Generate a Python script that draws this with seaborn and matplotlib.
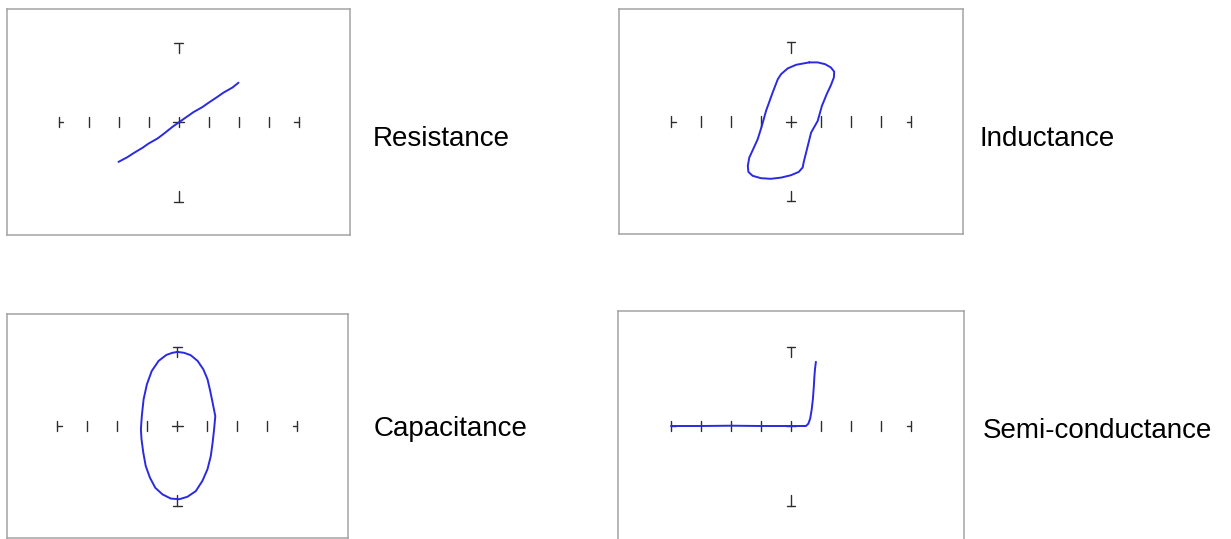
import numpy as np
import pandas as pd
import matplotlib
matplotlib.use("Agg")
import matplotlib.pyplot as plt
import seaborn as sns

# curve traces, in screen divisions (centre = 0,0)
res_x = [-2.0, -1.7, -1.5, -1.2, -1.0, -0.7, -0.5, -0.2, 0.0, 0.3, 0.5, 0.8, 1.0, 1.3, 1.5, 1.8, 2.0]
res_y = [-1.33, -1.17, -1.04, -0.86, -0.72, -0.55, -0.40, -0.16, -0.02, 0.19, 0.33, 0.50, 0.64, 0.84, 0.98, 1.15, 1.31]

ind_x = [0.61, 0.89, 1.14, 1.33, 1.44, 1.43, 1.33, 1.19, 1.03, 0.89, 0.67, 0.56, 0.42, 0.39, 0.26, 0.00,
         -0.33, -0.67, -1.00, -1.28, -1.42, -1.44, -1.39, -1.26, -1.11, -0.97, -0.83, -0.61, -0.44,
         -0.33, -0.11, 0.17, 0.44, 0.61]
ind_y = [1.97, 1.97, 1.91, 1.80, 1.66, 1.47, 1.21, 0.91, 0.52, 0.02, -0.37, -0.81, -1.37, -1.53, -1.68,
         -1.79, -1.87, -1.91, -1.89, -1.81, -1.68, -1.48, -1.20, -0.92, -0.59, -0.14, 0.36, 0.97, 1.41,
         1.58, 1.77, 1.89, 1.94, 1.97]

cap_x = [0.00, 0.22, 0.44, 0.67, 0.86, 1.00, 1.09, 1.17, 1.26, 1.22, 1.17, 1.11, 1.00, 0.83, 0.61, 0.33,
         0.06, -0.22, -0.50, -0.74, -0.92, -1.06, -1.14, -1.20, -1.22, -1.19, -1.13, -1.02, -0.86,
         -0.63, -0.37, -0.17, 0.00]
cap_y = [2.47, 2.44, 2.36, 2.17, 1.89, 1.56, 1.17, 0.78, 0.33, -0.11, -0.56, -1.00, -1.44, -1.83, -2.17,
         -2.36, -2.44, -2.42, -2.28, -2.06, -1.72, -1.33, -0.89, -0.44, -0.11, 0.33, 0.89, 1.39, 1.83,
         2.17, 2.37, 2.44, 2.47]

semi_x = [-4.0, -3.0, -2.0, -1.0, 0.0, 0.5, 0.58, 0.64, 0.69, 0.73, 0.76, 0.78, 0.80, 0.83]
semi_y = [0.0, 0.0, 0.01, 0.0, 0.0, 0.0, 0.08, 0.25, 0.55, 0.90, 1.30, 1.65, 1.90, 2.14]

labels = ["Resistance", "Inductance", "Capacitance", "Semi-conductance"]

W, H = 1231, 539
DIV = 30.0  # pixels per division

sns.set_theme(style="white")
plt.rcParams["font.family"] = ["Liberation Sans", "DejaVu Sans"]

fig = plt.figure(figsize=(W / 100, H / 100), dpi=100)
fig.patch.set_facecolor("white")

# panel boxes in pixels: left, top, width, height
boxes = [(7, 9, 343, 226), (619, 9, 344, 225), (7, 314, 341, 224), (618, 311, 346, 230)]
curves = [(res_x, res_y), (ind_x, ind_y), (cap_x, cap_y), (semi_x, semi_y)]
# label positions (left, baseline) in pixels
label_pos = [(373, 146), (980, 146), (374, 436), (983, 438)]

grat = "#2e2e2e"
for (l, t, w, h), (cx, cy) in zip(boxes, curves):
    ax = fig.add_axes([l / W, 1 - (t + h) / H, w / W, h / H])
    ax.set_xlim(-w / 2 / DIV, w / 2 / DIV)
    ax.set_ylim(-h / 2 / DIV, h / 2 / DIV)
    for s in ax.spines.values():
        s.set_color("#a3a3a3")
        s.set_linewidth(1.1)
    ax.set_xticks([])
    ax.set_yticks([])

    # graticule marks
    for i in range(-4, 5):
        ax.plot([i, i], [-0.17, 0.17], color=grat, lw=1.0)
    ax.plot([-4, -3.85], [0, 0], color=grat, lw=1.0)
    ax.plot([3.85, 4], [0, 0], color=grat, lw=1.0)
    ax.plot([-0.17, 0.17], [0, 0], color=grat, lw=1.0)
    ax.plot([-0.14, 0.14], [2.65, 2.65], color=grat, lw=1.0)
    ax.plot([0, 0], [2.65, 2.3], color=grat, lw=1.0)
    ax.plot([-0.14, 0.14], [-2.65, -2.65], color=grat, lw=1.0)
    ax.plot([0, 0], [-2.65, -2.3], color=grat, lw=1.0)

    df = pd.DataFrame({"x": cx, "y": cy})
    sns.lineplot(data=df, x="x", y="y", sort=False, estimator=None,
                 color="#2a2ae0", lw=1.4, ax=ax)
    ax.set_xlabel("")
    ax.set_ylabel("")

for (x, y), txt in zip(label_pos, labels):
    fig.text(x / W, 1 - y / H, txt, fontsize=20, color="black",
             ha="left", va="baseline")

fig.savefig("out.png", dpi=100, facecolor="white")
